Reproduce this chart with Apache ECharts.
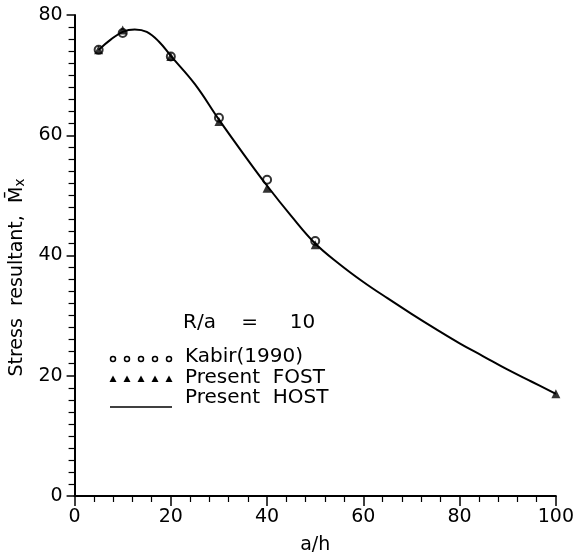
<!DOCTYPE html>
<html>
<head>
<meta charset="utf-8">
<script src="https://cdn.jsdelivr.net/npm/echarts@6/dist/echarts.min.js"></script>
<style>html,body{margin:0;padding:0;background:#fff}#c{width:577px;height:560px}</style>
</head>
<body>
<div id="c"></div>
<script>
// a/h values
const kabirX = [5, 10, 20, 30, 40, 50];
const kabirY = [74.2, 77.0, 73.1, 62.9, 52.6, 42.4];
const fostX = [5, 10, 20, 30, 40, 50, 100];
const fostY = [74.2, 77.5, 73.1, 62.3, 51.2, 41.8, 17.0];
const hostX = [5, 7.5, 10, 12.5, 15, 17.5, 20, 25, 30, 35, 40, 45, 50, 55, 60, 65, 70, 75, 80, 85, 90, 95, 100];
const hostY = [74.2, 75.9, 77.2, 77.6, 77.2, 75.6, 73.2, 68.5, 62.6, 57.0, 51.6, 46.6, 42.0, 38.6, 35.6, 32.9, 30.3, 27.8, 25.4, 23.2, 21.0, 19.0, 17.0];
const xTicks = [0, 20, 40, 60, 80, 100];
const yTicks = [0, 20, 40, 60, 80];
const legendNames = ['Kabir(1990)', 'Present  FOST', 'Present  HOST'];
const legendTitle = 'R/a    =     10';

const FONT = 'DejaVu Sans';
const chart = echarts.init(document.getElementById('c'));
const zip = (xs, ys) => xs.map((x, i) => [x, ys[i]]);

const legendSymX = [113, 127, 141, 155, 169];
const g = [];
g.push({type: 'text', left: 183, top: 313, style: {text: legendTitle, font: '20px "' + FONT + '"', fill: '#000'}});
legendNames.forEach((n, i) => {
  g.push({type: 'text', left: 185, top: 347 + i * 20.5, style: {text: n, font: '20px "' + FONT + '"', fill: '#000'}});
});
legendSymX.forEach(x => {
  g.push({type: 'circle', shape: {cx: x, cy: 359, r: 2.5}, style: {fill: '#fff', stroke: '#000', lineWidth: 1.5}});
  g.push({type: 'polygon', shape: {points: [[x, 375.5], [x - 3.5, 382], [x + 3.5, 382]]}, style: {fill: '#000'}});
});
g.push({type: 'line', shape: {x1: 110, y1: 407, x2: 172, y2: 407}, style: {stroke: '#000', lineWidth: 1.5}});

chart.setOption({
  animation: false,
  backgroundColor: '#fff',
  grid: {left: 74, right: 20, top: 15, bottom: 63, containLabel: false},
  xAxis: {
    type: 'value', min: xTicks[0], max: xTicks[xTicks.length - 1], interval: 20,
    name: 'a/h', nameLocation: 'middle', nameGap: 40,
    nameTextStyle: {fontFamily: FONT, fontSize: 19, color: '#000'},
    axisLine: {lineStyle: {color: '#000', width: 2}},
    axisTick: {inside: false, length: 10, lineStyle: {color: '#000', width: 1.5}},
    minorTick: {show: true, splitNumber: 5, length: 6, lineStyle: {color: '#000', width: 1.2}},
    axisLabel: {fontFamily: FONT, fontSize: 19, color: '#000', margin: 12},
    splitLine: {show: false}
  },
  yAxis: {
    type: 'value', min: yTicks[0], max: yTicks[yTicks.length - 1], interval: 20,
    name: '{a|Stress  resultant,  M\u0304}{s|x}', nameLocation: 'middle', nameGap: 42, nameRotate: 90,
    nameTextStyle: {fontFamily: FONT, fontSize: 19, color: '#000', padding: [0, 44, 0, 0],
      rich: {a: {fontFamily: FONT, fontSize: 19, color: '#000'}, s: {fontFamily: FONT, fontSize: 14, color: '#000', padding: [6, 0, 0, 0]}}},
    axisLine: {lineStyle: {color: '#000', width: 2}},
    axisTick: {inside: false, length: 8, lineStyle: {color: '#000', width: 1.5}},
    minorTick: {show: true, splitNumber: 10, length: 6, lineStyle: {color: '#000', width: 1.2}},
    axisLabel: {fontFamily: FONT, fontSize: 19, color: '#000', margin: 12},
    splitLine: {show: false}
  },
  graphic: g,
  series: [
    {name: legendNames[2], type: 'line', data: zip(hostX, hostY), smooth: 0.4,
      showSymbol: false, lineStyle: {color: '#000', width: 2}, z: 2},
    {name: legendNames[1], type: 'scatter', data: zip(fostX, fostY), symbol: 'triangle', symbolSize: 9,
      itemStyle: {color: '#000'}, z: 3},
    {name: legendNames[0], type: 'scatter', data: zip(kabirX, kabirY), symbol: 'circle', symbolSize: 8,
      itemStyle: {color: 'rgba(255,255,255,0)', borderColor: '#000', borderWidth: 2}, z: 4}
  ]
});
</script>
</body>
</html>
